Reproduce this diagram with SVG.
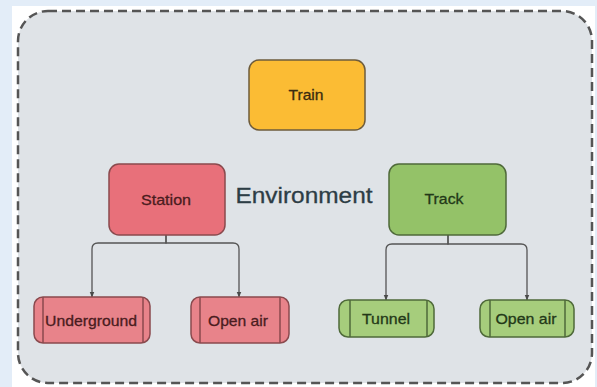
<svg xmlns="http://www.w3.org/2000/svg" width="597" height="387" viewBox="0 0 597 387">
<defs>
<marker id="arr" viewBox="0 0 10 10" refX="9" refY="5" markerWidth="6" markerHeight="6" orient="auto" markerUnits="userSpaceOnUse"><path d="M0,1 L10,5 L0,9 z" fill="#4a4a4a"/></marker>
<style>
.lbl{font-family:"Liberation Sans",Arial,sans-serif;font-size:15px;text-anchor:middle;dominant-baseline:central;stroke-width:0.3}
.red{fill:#e8707a;stroke:#8a4a4e;stroke-width:1.5}
.grn{fill:#94c268;stroke:#4f6a3a;stroke-width:1.5}
.redl{fill:#e8838a;stroke:#8a4a4e;stroke-width:1.5}
.grnl{fill:#a6cd7c;stroke:#4f6a3a;stroke-width:1.5}
.in{fill:none;stroke-width:1.5}
.conn{fill:none;stroke:#555;stroke-width:1.3;marker-end:url(#arr)}
</style>
</defs>
<rect x="0" y="0" width="597" height="387" fill="#e3edf8"/>
<rect x="12" y="6" width="583" height="381" fill="#ffffff"/>
<rect x="18" y="11" width="574" height="372" rx="30" fill="#dfe3e7" stroke="#555" stroke-width="2.5" stroke-dasharray="9,5"/>
<text x="304" y="195" font-family="Liberation Sans,Arial,sans-serif" font-size="22.5" fill="#2d3d45" stroke="#2d3d45" stroke-width="0.3" text-anchor="middle" dominant-baseline="central" textLength="137" lengthAdjust="spacingAndGlyphs">Environment</text>
<g id="connectors">
<path class="conn" d="M166,235 V243 H98 Q92,243 92,249 V297"/>
<path class="conn" d="M166,235 V243 H233 Q239,243 239,249 V297"/>
<path class="conn" d="M448,235 V244 H392 Q386,244 386,250 V300"/>
<path class="conn" d="M448,235 V244 H521 Q527,244 527,250 V300"/>
</g>
<g id="train">
<rect x="249" y="60" width="116" height="70" rx="10" fill="#fbbc34" stroke="#6e5c3c" stroke-width="1.5"/>
<text class="lbl" x="306" y="94" fill="#3a2c10" stroke="#3a2c10" textLength="35" lengthAdjust="spacingAndGlyphs">Train</text>
</g>
<g id="station">
<rect class="red" x="109" y="164" width="116" height="71" rx="10"/>
<text class="lbl" x="166" y="199" fill="#4a1c20" stroke="#4a1c20" textLength="50" lengthAdjust="spacingAndGlyphs">Station</text>
</g>
<g id="track">
<rect class="grn" x="389" y="164" width="117" height="71" rx="10"/>
<text class="lbl" x="444" y="198" fill="#233818" stroke="#233818" textLength="39" lengthAdjust="spacingAndGlyphs">Track</text>
</g>
<g id="underground">
<rect class="redl" x="34" y="297" width="116" height="46" rx="9"/>
<path class="in" stroke="#8a4a4e" d="M43,297 V343 M143,297 V343"/>
<text class="lbl" x="91" y="320" fill="#4a1c20" stroke="#4a1c20" textLength="92" lengthAdjust="spacingAndGlyphs">Underground</text>
</g>
<g id="openair1">
<rect class="redl" x="191" y="297" width="98" height="46" rx="9"/>
<path class="in" stroke="#8a4a4e" d="M200,297 V343 M280,297 V343"/>
<text class="lbl" x="238" y="320" fill="#4a1c20" stroke="#4a1c20" textLength="60" lengthAdjust="spacingAndGlyphs">Open air</text>
</g>
<g id="tunnel">
<rect class="grnl" x="339" y="300" width="95" height="37" rx="9"/>
<path class="in" stroke="#4f6a3a" d="M350,300 V337 M427,300 V337"/>
<text class="lbl" x="386" y="318" fill="#233818" stroke="#233818" textLength="48" lengthAdjust="spacingAndGlyphs">Tunnel</text>
</g>
<g id="openair2">
<rect class="grnl" x="480" y="300" width="94" height="37" rx="9"/>
<path class="in" stroke="#4f6a3a" d="M490,300 V337 M565,300 V337"/>
<text class="lbl" x="526" y="318" fill="#233818" stroke="#233818" textLength="61" lengthAdjust="spacingAndGlyphs">Open air</text>
</g>
</svg>
